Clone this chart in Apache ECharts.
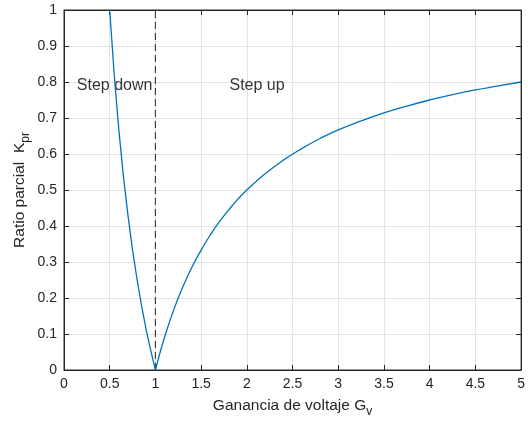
<!DOCTYPE html>
<html><head><meta charset="utf-8">
<script src="https://cdn.jsdelivr.net/npm/echarts@6/dist/echarts.min.js"></script>
<style>html,body{margin:0;padding:0;background:#fff}#c{width:528px;height:421px}</style>
</head><body><div id="c"></div>
<script>
// Step-down branch (Gv, Kpr)
const downX = [0.5, 0.55, 0.6, 0.65, 0.7, 0.75, 0.8, 0.85, 0.9, 0.95, 1.0];
const downY = [1.0, 0.818, 0.667, 0.538, 0.429, 0.333, 0.25, 0.176, 0.111, 0.053, 0.0];
// Step-up branch (Gv, Kpr)
const upX = [1.0, 1.05, 1.1, 1.2, 1.3, 1.4, 1.5, 1.6, 1.7, 1.8, 1.9, 2.0, 2.2, 2.4, 2.6, 2.8, 3.0, 3.25, 3.5, 3.75, 4.0, 4.25, 4.5, 4.75, 5.0];
const upY = [0.0, 0.048, 0.091, 0.167, 0.231, 0.286, 0.333, 0.375, 0.412, 0.444, 0.474, 0.5, 0.545, 0.583, 0.615, 0.643, 0.667, 0.692, 0.714, 0.733, 0.75, 0.765, 0.778, 0.789, 0.8];
const boundaryX = [1, 1];
const boundaryY = [0, 1];
const xTicks = [0, 0.5, 1, 1.5, 2, 2.5, 3, 3.5, 4, 4.5, 5];
const yTicks = [0, 0.1, 0.2, 0.3, 0.4, 0.5, 0.6, 0.7, 0.8, 0.9, 1];
const regionLabels = ["Step down", "Step up"];
const regionLabelX = [0.14, 1.81];
const regionLabelY = [0.79, 0.79];

const font = "Liberation Sans, Arial, Helvetica, sans-serif";
const axisCol = "#262626";
const chart = echarts.init(document.getElementById('c'));
const zip = (a, b) => a.map((v, i) => [v, b[i]]);
const baseX = {
  type: 'value', min: 0, max: 5, interval: 0.5,
  axisLine: {show: true, onZero: false, lineStyle: {color: axisCol, width: 1}},
  axisTick: {show: true, inside: true, length: 5, lineStyle: {color: axisCol}},
};
const baseY = {
  type: 'value', min: 0, max: 1, interval: 0.1,
  axisLine: {show: true, onZero: false, lineStyle: {color: axisCol, width: 1}},
  axisTick: {show: true, inside: true, length: 5, lineStyle: {color: axisCol}},
};
chart.setOption({
  animation: false,
  grid: {left: 64, top: 10, right: 4, bottom: 51, containLabel: false,
    show: true, borderColor: axisCol, borderWidth: 1, backgroundColor: 'transparent'},
  xAxis: [
    Object.assign({}, baseX, {position: 'bottom',
      axisLabel: {color: axisCol, fontSize: 14, fontFamily: font, margin: 7,
        formatter: v => xTicks.includes(v) ? String(v) : ''},
      splitLine: {show: true, lineStyle: {color: '#e3e3e3', width: 1}}}),
    Object.assign({}, baseX, {position: 'top', axisLabel: {show: false}, splitLine: {show: false}})
  ],
  yAxis: [
    Object.assign({}, baseY, {position: 'left',
      axisLabel: {color: axisCol, fontSize: 14, fontFamily: font, margin: 7,
        formatter: v => { const r = Math.round(v * 10) / 10; return yTicks.includes(r) ? String(r) : ''; }},
      splitLine: {show: true, lineStyle: {color: '#e3e3e3', width: 1}}}),
    Object.assign({}, baseY, {position: 'right', axisLabel: {show: false}, splitLine: {show: false}})
  ],
  series: [
    {type: 'line', data: zip(downX, downY), showSymbol: false, smooth: false,
      lineStyle: {color: '#0072BD', width: 1.3}, z: 5},
    {type: 'line', data: zip(upX, upY), showSymbol: false, smooth: true,
      lineStyle: {color: '#0072BD', width: 1.3}, z: 5},
    {type: 'line', data: zip(boundaryX, boundaryY), showSymbol: false,
      lineStyle: {color: '#404040', width: 1.2, type: [7, 4]}, z: 4},
    {type: 'scatter', data: regionLabelX.map((x, i) => [x, regionLabelY[i], regionLabels[i]]),
      symbolSize: 0, silent: true,
      label: {show: true, position: 'right', distance: 0,
        formatter: p => p.data[2], color: '#000', fontSize: 16, fontFamily: font}}
  ]
});
const xc = chart.convertToPixel({xAxisIndex: 0}, 2.5);
const yl = chart.convertToPixel({yAxisIndex: 0}, 0.5);
const rich = {n: {fontSize: 15.5, fontFamily: font, fill: axisCol}, s: {fontSize: 12, fontFamily: font, fill: axisCol, padding: [12, 0, 0, 0]}};
chart.setOption({graphic: [
  {type: 'text', x: xc, y: 406,
    style: {rich: rich, text: '{n|Ganancia de voltaje G}{s|v}', textAlign: 'center', textVerticalAlign: 'middle'}},
  {type: 'text', x: 20, y: yl, rotation: Math.PI / 2,
    style: {rich: rich, text: '{n|Ratio parcial  K}{s|pr}', textAlign: 'center', textVerticalAlign: 'middle'}}
]});
</script></body></html>
